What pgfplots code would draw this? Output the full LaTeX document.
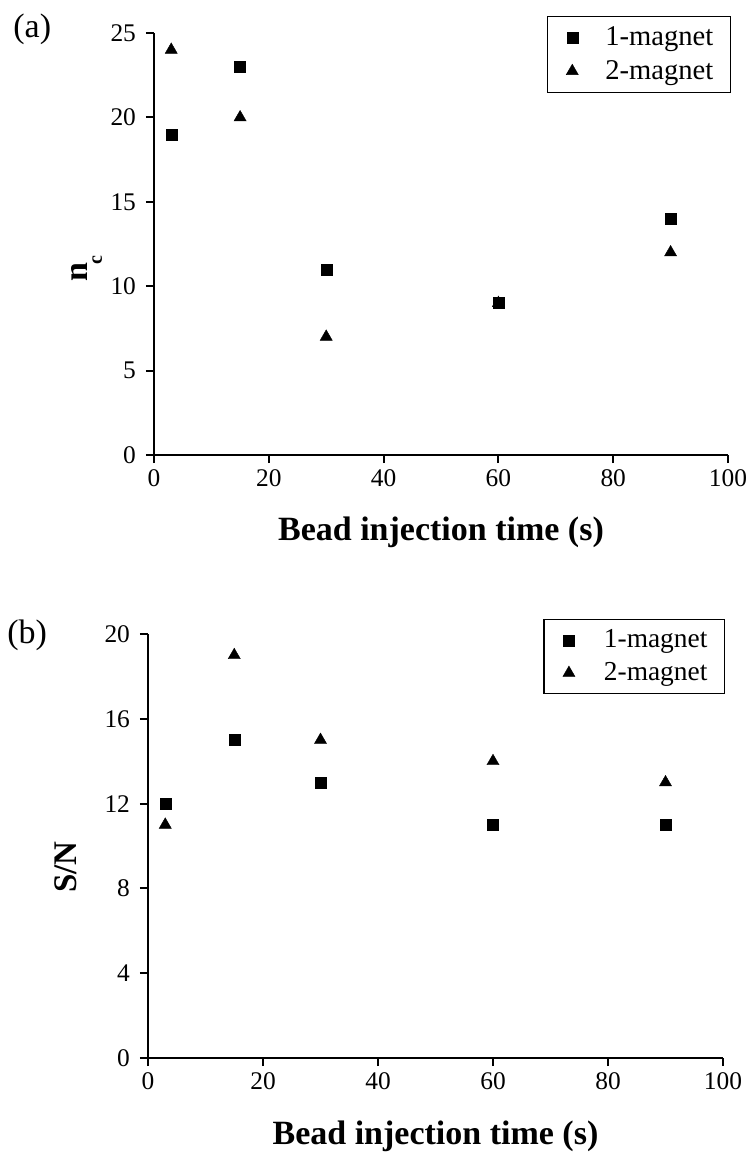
\documentclass[border=0pt]{standalone}
\usepackage{pgfplots}
\pgfplotsset{compat=1.18}
\usepackage{fontspec}
\setmainfont{Liberation Serif}
\begin{document}
\begin{tikzpicture}[x=1pt,y=1pt]
\useasboundingbox (0pt,0pt) rectangle (376pt,-576.5pt);
\pgfplotsset{
  myax/.style={
    scale only axis,
    axis x line*=bottom, axis y line*=left,
    axis line style={line width=1pt},
    tick style={line width=1pt, black},
    tick align=outside,
    major tick length=4pt,
    xmin=0, xmax=100, xtick={0,20,...,100},
    /pgf/number format/assume math mode=true,
    ticklabel style={font=\fontsize{12.7}{15}\selectfont},
    yticklabel style={xshift=-1.5pt},
    clip=false,
    legend cell align=left,
    legend image code/.code={\path[draw=none, fill=none] (-4pt,-3pt) rectangle (4pt,3pt); \draw[##1, line width=0.2pt, draw=black, fill=black] plot coordinates {(0pt,0pt)};},
  },
  sq/.style={only marks, black, mark=square*, mark size=2.75pt, mark options={line width=0.2pt, draw=black, fill=black}},
  tri/.style={only marks, black, mark=triangle*, mark size=3.5pt, mark options={line width=0.2pt, draw=black, fill=black}},
}
% ---------- (a) ----------
\begin{axis}[myax, at={(77pt,-227.5pt)}, anchor=south west, width=287pt, height=211pt,
  ymin=0, ymax=25, ytick={0,5,...,25},
  xlabel={Bead injection time (s)},
  xlabel style={at={(axis description cs:0.5,-0.2014)}, anchor=base, inner sep=0pt, font=\fontsize{17}{20}\selectfont\bfseries},
  ylabel={n\kern-1pt\raisebox{-7pt}{\fontsize{10}{12}\selectfont c}},
  ylabel style={at={(axis description cs:-0.115,0.410)}, anchor=base west, inner sep=0pt, font=\fontsize{17}{20}\selectfont\bfseries},
  legend style={at={(1.005,1.040)}, anchor=north east, draw=black, line width=0.6pt,
    font=\fontsize{14.3}{17}\selectfont, nodes={inner sep=0pt},
    inner xsep=8.5pt, inner ysep=5pt, row sep=5.8pt,
    /tikz/every odd column/.append style={column sep=12.5pt}},
]
\addplot[sq] coordinates {(3,19) (15,23) (30,11) (60,9) (90,14)};
\addplot[tri] coordinates {(3,24) (15,20) (30,7) (60,9) (90,12)};
\legend{1-magnet,2-magnet}
\end{axis}
% ---------- (b) ----------
\begin{axis}[myax, at={(74pt,-529pt)}, anchor=south west, width=287.5pt, height=212pt,
  ymin=0, ymax=20, ytick={0,4,...,20},
  xlabel={Bead injection time (s)},
  xlabel style={at={(axis description cs:0.5,-0.205)}, anchor=base, inner sep=0pt, font=\fontsize{17}{20}\selectfont\bfseries},
  ylabel={S/N},
  ylabel style={at={(axis description cs:-0.1235,0.389)}, anchor=base west, inner sep=0pt, font=\fontsize{16.5}{20}\selectfont\bfseries},
  legend style={at={(1.0035,1.035)}, anchor=north east, draw=black, line width=0.6pt,
    font=\fontsize{13.7}{17}\selectfont, nodes={inner sep=0pt},
    inner xsep=8.5pt, inner ysep=5pt, row sep=5.8pt,
    /tikz/every odd column/.append style={column sep=13.5pt}},
]
\addplot[sq] coordinates {(3,12) (15,15) (30,13) (60,11) (90,11)};
\addplot[tri] coordinates {(3,11) (15,19) (30,15) (60,14) (90,13)};
\legend{1-magnet,2-magnet}
\end{axis}
\node[anchor=base west, inner sep=0pt, font=\fontsize{17}{20}\selectfont] at (6.5pt,-18.5pt) {(a)};
\node[anchor=base west, inner sep=0pt, font=\fontsize{17}{20}\selectfont] at (3.5pt,-321.5pt) {(b)};
\end{tikzpicture}
\end{document}
